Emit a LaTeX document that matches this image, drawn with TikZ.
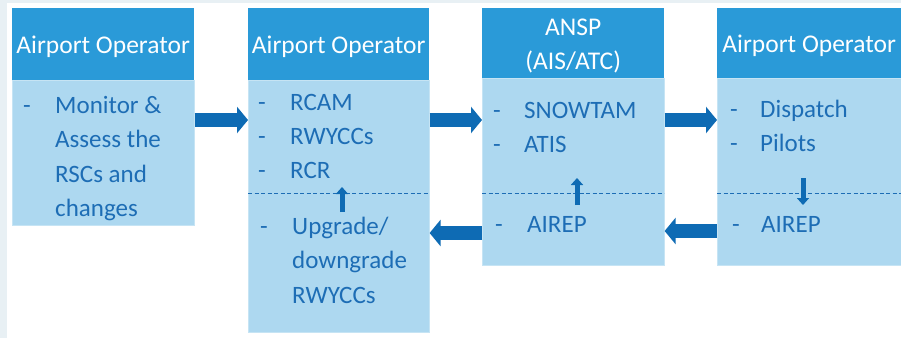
\documentclass[tikz,border=0pt]{standalone}
\usepackage{fontspec}
\setmainfont{Carlito}
\usetikzlibrary{arrows.meta}
\definecolor{hdrblue}{HTML}{2A9AD8}
\definecolor{bodyblue}{HTML}{ADD8F0}
\definecolor{txtblue}{HTML}{1D6DB5}
\definecolor{arrblue}{HTML}{0E6BB4}
\definecolor{stripc}{HTML}{E8F0F4}
\newcommand{\lowr}[1]{\raisebox{-2.5pt}[\height][\depth]{#1}}
\tikzset{
  hdr/.style={fill=hdrblue, draw=none, anchor=north west, inner sep=0pt, text=white, align=center, font=\fontsize{25.5}{34}\selectfont},
  bodybox/.style={fill=bodyblue, draw=bodyblue!70!white, line width=0.6pt, anchor=north west, inner sep=0pt},
  txt/.style={anchor=base west, inner sep=0pt, text=txtblue, font=\fontsize{25}{30}\selectfont},
  bigarr/.style={draw=arrblue, line width=14pt, -{Triangle[length=11pt,width=26pt]}},
  smallarr/.style={draw=arrblue, line width=5pt, -{Triangle[length=7pt,width=12pt]}},
  sep/.style={draw=txtblue, line width=1pt, dash pattern=on 4pt off 2.5pt},
}
\begin{document}
\begin{tikzpicture}[x=1pt,y=-1pt]
\useasboundingbox (0,0) rectangle (901,338);
\fill[white] (0,0) rectangle (901,338);
\fill[stripc] (0,0) rectangle (7,338);
\fill[stripc] (0,0) rectangle (901,2.5);

% Box 1
\node[bodybox, minimum width=182pt, minimum height=145pt] (b1) at (12,80) {};
\node[hdr, minimum width=182pt, minimum height=72pt] (h1) at (12,8) {\lowr{Airport Operator}};
\node[txt] (b1d) at (23,113) {-};
\node[txt] (b1a) at (55,113) {Monitor \&};
\node[txt] (b1b) at (55,147.5) {Assess the};
\node[txt] (b1c) at (55,182) {RSCs and};
\node[txt] (b1e) at (55,216.5) {changes};

% Box 2
\node[bodybox, minimum width=181pt, minimum height=252pt] (b2) at (248,80) {};
\node[hdr, minimum width=181pt, minimum height=72pt] (h2) at (248,8) {\lowr{Airport Operator}};
\node[txt] (b2d1) at (258,110) {-};
\node[txt] (b2a) at (290,110) {RCAM};
\node[txt] (b2d2) at (258,144) {-};
\node[txt] (b2b) at (290,144) {RWYCCs};
\node[txt] (b2d3) at (258,178) {-};
\node[txt] (b2c) at (290,178) {RCR};
\coordinate (s2l) at (248,193);
\coordinate (s2r) at (429,193);
\draw[sep] (s2l) -- (s2r);
\node[txt] (b2d4) at (260,234) {-};
\node[txt] (b2e) at (292,234) {Upgrade/};
\node[txt] (b2f) at (292,268.5) {downgrade};
\node[txt] (b2g) at (292,303) {RWYCCs};

% Box 3
\node[bodybox, minimum width=182pt, minimum height=187pt] (b3) at (482,78) {};
\node[hdr, minimum width=182pt, minimum height=70pt] (h3) at (482,8) {\lowr{ANSP}\\\lowr{(AIS/ATC)}};
\node[txt] (b3d1) at (493,118) {-};
\node[txt] (b3a) at (524,118) {SNOWTAM};
\node[txt] (b3d2) at (493,152) {-};
\node[txt] (b3b) at (524,152) {ATIS};
\coordinate (s3l) at (482,193);
\coordinate (s3r) at (664,193);
\draw[sep] (s3l) -- (s3r);
\node[txt] (b3d3) at (495,232) {-};
\node[txt] (b3c) at (527,232) {AIREP};

% Box 4
\node[bodybox, minimum width=184pt, minimum height=187pt] (b4) at (717,78) {};
\node[hdr, minimum width=184pt, minimum height=70pt] (h4) at (717,8) {\lowr{Airport Operator}};
\node[txt] (b4d1) at (730,117) {-};
\node[txt] (b4a) at (760,117) {Dispatch};
\node[txt] (b4d2) at (730,151) {-};
\node[txt] (b4b) at (760,151) {Pilots};
\coordinate (s4l) at (717,193);
\coordinate (s4r) at (901,193);
\draw[sep] (s4l) -- (s4r);
\node[txt] (b4d3) at (732,232) {-};
\node[txt] (b4c) at (761,232) {AIREP};

% Big arrows
\draw[bigarr] (b1.east |- 0,120) -- (b2.west |- 0,120);
\draw[bigarr] (b2.east |- 0,120) -- (b3.west |- 0,120);
\draw[bigarr] (b3.east |- 0,120) -- (b4.west |- 0,120);
\draw[bigarr] (b3.west |- 0,233) -- (b2.east |- 0,233);
\draw[bigarr] (b4.west |- 0,231) -- (b3.east |- 0,231);

% Small arrows
\coordinate (u2a) at (342,212);
\coordinate (u2b) at (342,187);
\draw[smallarr] (u2a) -- (u2b);
\coordinate (u3a) at (577,205);
\coordinate (u3b) at (577,178);
\draw[smallarr] (u3a) -- (u3b);
\coordinate (u4a) at (803,178);
\coordinate (u4b) at (803,205);
\draw[smallarr] (u4a) -- (u4b);
\end{tikzpicture}
\end{document}
